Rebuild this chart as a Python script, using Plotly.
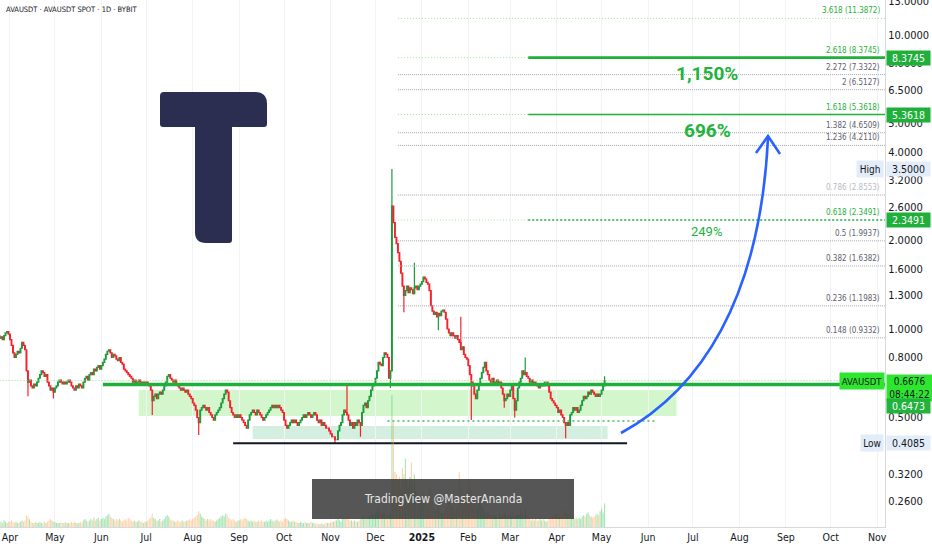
import numpy as np
import pandas as pd
import plotly.graph_objects as go

# ---------------- data ----------------
month_starts = ["2024-03-25", "2024-04-01", "2024-05-01", "2024-06-01", "2024-07-01",
                "2024-08-01", "2024-09-01", "2024-10-01", "2024-11-01", "2024-12-01",
                "2025-01-01", "2025-02-01", "2025-03-01", "2025-04-01", "2025-05-01"]

close_2024_03 = [0.93, 0.94, 0.92, 0.95, 0.97, 0.98, 0.96]
close_2024_04 = [0.92, 0.88, 0.83, 0.80, 0.82, 0.84, 0.83, 0.86, 0.90, 0.88,
                 0.85, 0.72, 0.66, 0.67, 0.64, 0.63, 0.65, 0.64, 0.66, 0.68,
                 0.70, 0.72, 0.71, 0.69, 0.70, 0.66, 0.64, 0.62, 0.63, 0.61]
close_2024_05 = [0.63, 0.64, 0.66, 0.67, 0.66, 0.65, 0.66, 0.65, 0.66, 0.67,
                 0.66, 0.64, 0.63, 0.62, 0.64, 0.63, 0.65, 0.64, 0.63, 0.66,
                 0.68, 0.69, 0.67, 0.70, 0.71, 0.70, 0.73, 0.72, 0.74, 0.75, 0.73]
close_2024_06 = [0.75, 0.77, 0.79, 0.82, 0.84, 0.85, 0.83, 0.80, 0.82, 0.81,
                 0.79, 0.78, 0.80, 0.77, 0.76, 0.73, 0.72, 0.71, 0.70, 0.69,
                 0.68, 0.66, 0.67, 0.65, 0.66, 0.67, 0.66, 0.65, 0.66, 0.65]
close_2024_07 = [0.66, 0.65, 0.64, 0.62, 0.57, 0.59, 0.60, 0.58, 0.60, 0.61,
                 0.60, 0.62, 0.64, 0.66, 0.69, 0.70, 0.68, 0.67, 0.66, 0.67,
                 0.65, 0.64, 0.63, 0.62, 0.63, 0.62, 0.61, 0.62, 0.60, 0.59, 0.58]
close_2024_08 = [0.56, 0.55, 0.53, 0.50, 0.48, 0.53, 0.54, 0.55, 0.54, 0.53,
                 0.54, 0.52, 0.51, 0.50, 0.49, 0.51, 0.52, 0.53, 0.54, 0.56,
                 0.58, 0.60, 0.62, 0.61, 0.57, 0.54, 0.52, 0.51, 0.50, 0.51, 0.50]
close_2024_09 = [0.51, 0.50, 0.49, 0.48, 0.47, 0.46, 0.49, 0.51, 0.52, 0.53,
                 0.52, 0.51, 0.53, 0.52, 0.51, 0.50, 0.49, 0.50, 0.51, 0.52,
                 0.53, 0.54, 0.55, 0.54, 0.55, 0.54, 0.55, 0.54, 0.53, 0.52]
close_2024_10 = [0.49, 0.47, 0.46, 0.47, 0.48, 0.49, 0.48, 0.49, 0.48, 0.47,
                 0.48, 0.49, 0.50, 0.51, 0.50, 0.51, 0.52, 0.51, 0.50, 0.51,
                 0.52, 0.51, 0.49, 0.48, 0.49, 0.47, 0.48, 0.47, 0.46, 0.46, 0.45]
close_2024_11 = [0.44, 0.43, 0.43, 0.42, 0.42, 0.45, 0.47, 0.48, 0.51, 0.53,
                 0.52, 0.51, 0.49, 0.47, 0.48, 0.46, 0.48, 0.47, 0.49, 0.48,
                 0.47, 0.52, 0.55, 0.56, 0.54, 0.57, 0.59, 0.62, 0.64, 0.65]
close_2024_12 = [0.68, 0.72, 0.77, 0.76, 0.75, 0.80, 0.83, 0.82, 0.80, 0.68,
                 0.72, 2.62, 2.30, 2.05, 1.95, 1.82, 1.70, 1.55, 1.40, 1.30,
                 1.35, 1.40, 1.33, 1.38, 1.36, 1.32, 1.38, 1.40, 1.36, 1.40, 1.42]
close_2025_01 = [1.45, 1.50, 1.48, 1.44, 1.42, 1.35, 1.20, 1.15, 1.12, 1.14,
                 1.10, 1.13, 1.11, 1.15, 1.16, 1.14, 1.08, 1.00, 0.97, 0.95,
                 0.97, 0.95, 0.93, 0.95, 0.92, 0.90, 0.85, 0.87, 0.82, 0.80, 0.79]
close_2025_02 = [0.75, 0.70, 0.66, 0.64, 0.60, 0.58, 0.62, 0.65, 0.68, 0.71,
                 0.74, 0.77, 0.72, 0.70, 0.67, 0.66, 0.68, 0.65, 0.66, 0.67,
                 0.65, 0.66, 0.63, 0.60, 0.57, 0.58, 0.60, 0.59]
close_2025_03 = [0.62, 0.64, 0.58, 0.53, 0.57, 0.63, 0.66, 0.68, 0.72, 0.70,
                 0.71, 0.69, 0.68, 0.66, 0.67, 0.65, 0.66, 0.65, 0.64, 0.63,
                 0.64, 0.65, 0.64, 0.66, 0.66, 0.64, 0.61, 0.58, 0.57, 0.56, 0.55]
close_2025_04 = [0.54, 0.52, 0.53, 0.51, 0.50, 0.48, 0.47, 0.48, 0.47, 0.51,
                 0.52, 0.54, 0.53, 0.54, 0.52, 0.53, 0.55, 0.57, 0.59, 0.58,
                 0.59, 0.61, 0.60, 0.62, 0.61, 0.60, 0.59, 0.60, 0.59, 0.60]
close_2025_05 = [0.62, 0.64, 0.6676]

vol_2024_03 = [3, 4, 3, 5, 4, 3, 4]
vol_2024_04 = [4, 5, 4, 3, 4, 3, 3, 4, 5, 4, 5, 9, 8, 6, 4, 3, 3, 4, 3, 3,
               4, 3, 3, 4, 3, 4, 5, 6, 5, 4]
vol_2024_05 = [4, 3, 3, 3, 4, 3, 3, 4, 3, 3, 3, 4, 3, 4, 3, 3, 3, 4, 3, 5,
               6, 5, 4, 5, 6, 5, 7, 5, 6, 7, 5]
vol_2024_06 = [6, 7, 6, 8, 9, 10, 8, 7, 6, 5, 6, 5, 6, 5, 4, 5, 6, 5, 7, 6,
               5, 4, 5, 4, 4, 5, 4, 4, 3, 4]
vol_2024_07 = [4, 5, 6, 7, 10, 7, 6, 5, 5, 6, 4, 5, 6, 8, 9, 8, 6, 5, 5, 4,
               4, 5, 4, 4, 5, 4, 4, 5, 5, 6, 5]
vol_2024_08 = [6, 7, 8, 9, 12, 10, 8, 7, 6, 5, 6, 5, 6, 5, 5, 4, 5, 6, 7, 8,
               9, 8, 10, 9, 7, 6, 5, 6, 5, 4, 5]
vol_2024_09 = [5, 6, 5, 6, 7, 6, 5, 4, 5, 4, 5, 4, 4, 5, 4, 5, 4, 4, 5, 4,
               5, 6, 5, 4, 5, 6, 5, 4, 5, 4]
vol_2024_10 = [6, 7, 6, 5, 4, 4, 5, 4, 4, 3, 3, 4, 3, 3, 4, 3, 3, 3, 4, 3,
               3, 2, 3, 2, 2, 3, 2, 2, 3, 3, 3]
vol_2024_11 = [3, 4, 4, 5, 5, 6, 5, 4, 6, 7, 6, 9, 6, 5, 5, 4, 5, 4, 4, 5,
               6, 7, 8, 7, 6, 7, 8, 9, 10, 9]
vol_2024_12 = [10, 12, 14, 12, 10, 11, 12, 10, 9, 10, 12, 100, 80, 42, 40, 35, 38, 30, 45, 40,
               52, 35, 30, 38, 49, 33, 40, 28, 25, 22, 20]
vol_2025_01 = [22, 25, 20, 18, 15, 30, 28, 20, 15, 12, 14, 18, 12, 10, 11, 12, 15, 22, 20, 25,
               16, 14, 12, 14, 16, 42, 30, 20, 18, 22, 25]
vol_2025_02 = [30, 35, 28, 22, 20, 18, 15, 18, 22, 16, 14, 12, 10, 12, 10, 9, 8, 10, 9, 8,
               7, 10, 8, 9, 12, 10, 8, 9]
vol_2025_03 = [10, 8, 12, 9, 8, 10, 9, 12, 10, 8, 14, 9, 7, 6, 5, 6, 5, 6, 5, 5,
               6, 5, 6, 5, 4, 5, 6, 7, 8, 9, 10]
vol_2025_04 = [9, 10, 8, 9, 8, 12, 14, 10, 9, 11, 8, 7, 6, 7, 6, 7, 6, 8, 9, 8,
               10, 11, 9, 8, 7, 8, 9, 10, 9, 12]
vol_2025_05 = [14, 11, 18]

first_open = 0.95
wick_high = {"2024-11-12": 0.645, "2024-12-12": 3.50, "2024-12-27": 1.68,
             "2025-01-27": 1.10, "2025-03-11": 0.80, "2025-05-03": 0.69}
wick_low = {"2024-04-13": 0.59, "2024-04-30": 0.58, "2024-07-05": 0.51, "2024-08-05": 0.436,
            "2024-11-04": 0.4085, "2024-11-21": 0.43, "2024-12-11": 0.63, "2024-12-20": 1.14,
            "2025-01-12": 0.99, "2025-02-03": 0.49, "2025-02-25": 0.54, "2025-03-04": 0.50,
            "2025-04-07": 0.425}

fib_ratios = ["3.618", "2.618", "2.272", "2", "1.618", "1.382", "1.236",
              "0.786", "0.618", "0.5", "0.382", "0.236", "0.148"]
fib_prices = [11.3872, 8.3745, 7.3322, 6.5127, 5.3618, 4.6509, 4.2110,
              2.8553, 2.3491, 1.9937, 1.6382, 1.1983, 0.9332]
green_ratios = ["3.618", "2.618", "1.618", "0.618"]

target_prices = [8.3745, 5.3618, 2.3491]
gain_labels = ["1,150%", "696%", "249%"]
last_price = 0.6676
support_price = 0.6473
range_high = 3.5
range_low = 0.4085
dotted_support = 0.486
zone_top = [0.620, 0.468]
zone_bottom = [0.506, 0.4226]

y_ticks = [13, 10, 8, 6.5, 5, 4, 3.2, 2.6, 2, 1.6, 1.3, 1.0, 0.8, 0.5, 0.32, 0.26]
month_ticks = pd.date_range("2024-04-01", "2025-11-01", freq="MS")
month_text = [("<b>2025</b>" if (d.month == 1) else d.strftime("%b")) for d in month_ticks]

# ---------------- build OHLC ----------------
closes_by_month = [close_2024_03, close_2024_04, close_2024_05, close_2024_06, close_2024_07,
                   close_2024_08, close_2024_09, close_2024_10, close_2024_11, close_2024_12,
                   close_2025_01, close_2025_02, close_2025_03, close_2025_04, close_2025_05]
vols_by_month = [vol_2024_03, vol_2024_04, vol_2024_05, vol_2024_06, vol_2024_07,
                 vol_2024_08, vol_2024_09, vol_2024_10, vol_2024_11, vol_2024_12,
                 vol_2025_01, vol_2025_02, vol_2025_03, vol_2025_04, vol_2025_05]
dates, closes, vols = [], [], []
for ms, cl, vl in zip(month_starts, closes_by_month, vols_by_month):
    dts = pd.date_range(ms, periods=len(cl), freq="D")
    dates += list(dts)
    closes += cl
    vv = list(vl) + [vl[-1]] * max(0, len(cl) - len(vl))
    vols += vv[:len(cl)]
opens = [first_open] + closes[:-1]
highs = [max(o, c) for o, c in zip(opens, closes)]
lows = [min(o, c) for o, c in zip(opens, closes)]
dkeys = [d.strftime("%Y-%m-%d") for d in dates]
for i, k in enumerate(dkeys):
    if k in wick_high:
        highs[i] = max(highs[i], wick_high[k])
    if k in wick_low:
        lows[i] = min(lows[i], wick_low[k])

# ---------------- geometry helpers (pixel -> paper) ----------------
PW, PH = 885.0, 527.0
def px(x):
    return x / PW
def py(y):
    return 1 - y / PH

def path_px(cmds):
    out = []
    for c in cmds:
        if isinstance(c, str):
            if c:
                out.append(c)
        else:
            out.append(f"{px(c[0]):.5f},{py(c[1]):.5f}")
    return " ".join(out)

FONT = "Liberation Sans Narrow, DejaVu Sans Condensed, Roboto, sans-serif"
GREEN = "#1fb03a"
fig = go.Figure()

x_far = "2025-12-31"
x_start_all = "2024-03-01"

shapes = []
# zones (below the candles)
shapes.append(dict(type="rect", xref="x", yref="y", x0="2024-06-26", x1="2025-06-20",
                   y0=zone_bottom[0], y1=zone_top[0], fillcolor="#d3f6cc", line=dict(width=0),
                   layer="below"))
shapes.append(dict(type="rect", xref="x", yref="y", x0="2024-09-10", x1="2025-05-05",
                   y0=zone_bottom[1], y1=zone_top[1], fillcolor="#d4efdf", line=dict(width=0),
                   layer="below"))

# fib lines
fib_start = "2024-12-16"
solid_start = "2025-03-13"
for r, p in zip(fib_ratios, fib_prices):
    if r in ("2.618", "1.618"):
        fig.add_trace(go.Scatter(x=[fib_start, solid_start], y=[p, p], mode="lines",
                                 line=dict(color="#9fe29f", width=1, dash="1px,2px"), hoverinfo="skip"))
        fig.add_trace(go.Scatter(x=[solid_start, x_far], y=[p, p], mode="lines",
                                 line=dict(color=GREEN, width=2.6 if r == "2.618" else 1.6),
                                 hoverinfo="skip"))
    elif r == "0.618":
        fig.add_trace(go.Scatter(x=[fib_start, solid_start], y=[p, p], mode="lines",
                                 line=dict(color="#9fe29f", width=1, dash="1px,2px"), hoverinfo="skip"))
        fig.add_trace(go.Scatter(x=[solid_start, x_far], y=[p, p], mode="lines",
                                 line=dict(color=GREEN, width=1.4, dash="2px,2px"), hoverinfo="skip"))
    elif r == "3.618":
        fig.add_trace(go.Scatter(x=[fib_start, x_far], y=[p, p], mode="lines",
                                 line=dict(color="#9fe29f", width=1, dash="1px,2px"), hoverinfo="skip"))
    else:
        fig.add_trace(go.Scatter(x=[fib_start, x_far], y=[p, p], mode="lines",
                                 line=dict(color="#a3a6ae", width=1, dash="1px,1px"), hoverinfo="skip"))

# current price dotted line
fig.add_trace(go.Scatter(x=[x_start_all, x_far], y=[last_price, last_price], mode="lines",
                         line=dict(color="#8fe08f", width=1, dash="1px,2px"), hoverinfo="skip"))
# dotted green support
fig.add_trace(go.Scatter(x=["2024-12-09", "2025-06-06"], y=[dotted_support, dotted_support], mode="lines",
                         line=dict(color="#48b85a", width=1.5, dash="2px,3px"), hoverinfo="skip"))

# candles
fig.add_trace(go.Candlestick(x=dates, open=opens, high=highs, low=lows, close=closes,
                             increasing=dict(line=dict(color="#1d9b3c", width=1.2), fillcolor="#1d9b3c"),
                             decreasing=dict(line=dict(color="#f5222d", width=1.2), fillcolor="#f5222d"),
                             whiskerwidth=0, hoverinfo="skip"))

# thick support line and low line
fig.add_trace(go.Scatter(x=["2024-06-02", x_far], y=[support_price, support_price], mode="lines",
                         line=dict(color=GREEN, width=3.4), hoverinfo="skip"))
fig.add_trace(go.Scatter(x=["2024-08-28", "2025-05-18"], y=[range_low, range_low], mode="lines",
                         line=dict(color="#131722", width=2), hoverinfo="skip"))

# volume
vcol = ["rgba(60,200,90,0.45)" if c >= o else "rgba(255,160,70,0.45)" for o, c in zip(opens, closes)]
fig.add_trace(go.Bar(x=dates, y=vols, marker=dict(color=vcol, line=dict(width=0)), yaxis="y2",
                     hoverinfo="skip"))

# T logo
t_path = path_px(["M", (164, 92), "L", (255, 92), "Q", (267, 92), (267, 104), "L", (267, 124),
                  "Q", (267, 127), (264, 127), "L", (232, 127), "L", (232, 240),
                  "Q", (232, 243), (229, 243), "L", (206, 243), "Q", (195, 243), (195, 232),
                  "L", (195, 127), "L", (163, 127), "Q", (160, 127), (160, 124),
                  "L", (160, 96), "Q", (160, 92), (164, 92), "Z"])
shapes.append(dict(type="path", xref="paper", yref="paper", path=t_path,
                   fillcolor="#2b2e50", line=dict(width=0), layer="above"))
# blue arrow
arrow = path_px(["M", (621, 433), "C", (700, 390), (760, 300), (768, 138)])
shapes.append(dict(type="path", xref="paper", yref="paper", path=arrow,
                   line=dict(color="#2962ff", width=2.6), layer="above"))
head = path_px(["M", (756, 153), "L", (768, 136), "L", (780, 154)])
shapes.append(dict(type="path", xref="paper", yref="paper", path=head,
                   line=dict(color="#2962ff", width=2.6), layer="above"))
# watermark box
shapes.append(dict(type="rect", xref="paper", yref="paper", x0=px(312), x1=px(574), y0=py(519), y1=py(479),
                   fillcolor="rgba(58,58,58,0.86)", line=dict(width=0), layer="above"))

ann = []
ann.append(dict(text="AVAUSDT · AVAUSDT SPOT · 1D · BYBIT", xref="paper", yref="paper",
                x=px(4), y=py(10), xanchor="left", yanchor="middle", showarrow=False,
                font=dict(size=7.5, color="#131722")))
ann.append(dict(text="TradingView @MasterAnanda", xref="paper", yref="paper", x=px(443), y=py(499),
                xanchor="center", yanchor="middle", showarrow=False, font=dict(size=12, color="#e6e6e6")))
# fib labels
for r, p in zip(fib_ratios, fib_prices):
    col = GREEN if r in green_ratios else ("#b8bbc2" if r == "0.786" else "#5d606b")
    ann.append(dict(text=f"{r} ({p:.4f})", xref="paper", yref="y", x=px(882), y=np.log10(p),
                    xanchor="right", yanchor="bottom", yshift=1, showarrow=False,
                    font=dict(size=8, color=col)))
# gain labels
gain_pos = [(707, 74, 19, True), (707, 130, 19, True), (706, 232, 13, False)]
for t, (gx, gy, fs, b) in zip(gain_labels, gain_pos):
    ann.append(dict(text=f"<b>{t}</b>" if b else t, xref="paper", yref="paper", x=px(gx), y=py(gy),
                    xanchor="center", yanchor="middle", showarrow=False,
                    font=dict(size=fs, color="#22b33c", family="Roboto, sans-serif")))
# right axis tags
def tag(text, price, bg, fc, yshift=0, h=14):
    ann.append(dict(text=text, xref="paper", yref="y", x=1, y=np.log10(price), xanchor="left",
                    yanchor="middle", xshift=1, yshift=yshift, showarrow=False, bgcolor=bg,
                    width=43, height=h, align="center", font=dict(size=10.5, color=fc),
                    borderpad=0))
for tp in target_prices:
    tag(f"{tp:.4f}", tp, GREEN, "white")
tag(f"{range_high:.4f}", range_high, "#e3edf9", "#131722")
tag(f"{range_low:.4f}", range_low, "#e3edf9", "#131722")
ann.append(dict(text="High", xref="paper", yref="y", x=px(884), y=np.log10(range_high), xanchor="right",
                yanchor="middle", showarrow=False, bgcolor="#e3edf9", width=24, height=14,
                font=dict(size=10, color="#131722")))
ann.append(dict(text="Low", xref="paper", yref="y", x=px(884), y=np.log10(range_low), xanchor="right",
                yanchor="middle", showarrow=False, bgcolor="#e3edf9", width=20, height=14,
                font=dict(size=10, color="#131722")))
ann.append(dict(text="AVAUSDT", xref="paper", yref="y", x=px(885), y=np.log10(last_price), xanchor="right",
                yanchor="middle", showarrow=False, bgcolor="#2ee62e", width=42, height=14,
                font=dict(size=9.5, color="#131722")))
ann.append(dict(text=f"{last_price:.4f}<br>08:44:22", xref="paper", yref="y", x=1, y=np.log10(last_price),
                xanchor="left", yanchor="top", xshift=1, yshift=7, showarrow=False, bgcolor="#2ee62e",
                width=43, height=24, align="center", font=dict(size=10, color="#131722")))
tag(f"{support_price:.4f}", support_price, "#22b33c", "white", yshift=-21)

fig.update_layout(
    width=932, height=550, margin=dict(l=0, r=47, t=0, b=23, autoexpand=False),
    paper_bgcolor="white", plot_bgcolor="white", showlegend=False, hovermode=False,
    font=dict(family=FONT, color="#131722", size=10.5),
    xaxis=dict(type="date", range=["2024-03-25 08:00", "2025-11-06 05:00"], automargin=False,
               tickvals=list(month_ticks), ticktext=month_text, showgrid=True, gridcolor="#f1f3f7",
               showline=True, linecolor="#d6d9e0", ticks="", zeroline=False,
               rangeslider=dict(visible=False), tickfont=dict(size=10.5, color="#131722")),
    yaxis=dict(type="log", side="right", range=[-0.6735, 1.1190], tickvals=y_ticks, automargin=False,
               ticktext=[f"{v:.4f}" for v in y_ticks], showgrid=False, showline=True,
               ticklabeloverflow="allow",
               linecolor="#d6d9e0", ticks="", zeroline=False, tickfont=dict(size=11, color="#131722")),
    yaxis2=dict(overlaying="y", range=[0, 400], visible=False, fixedrange=True),
    shapes=shapes, annotations=ann, bargap=0.25,
)
fig.write_html("out.html", config={"displayModeBar": False},
               post_script="document.body.style.margin='0';document.body.style.padding='0';")
